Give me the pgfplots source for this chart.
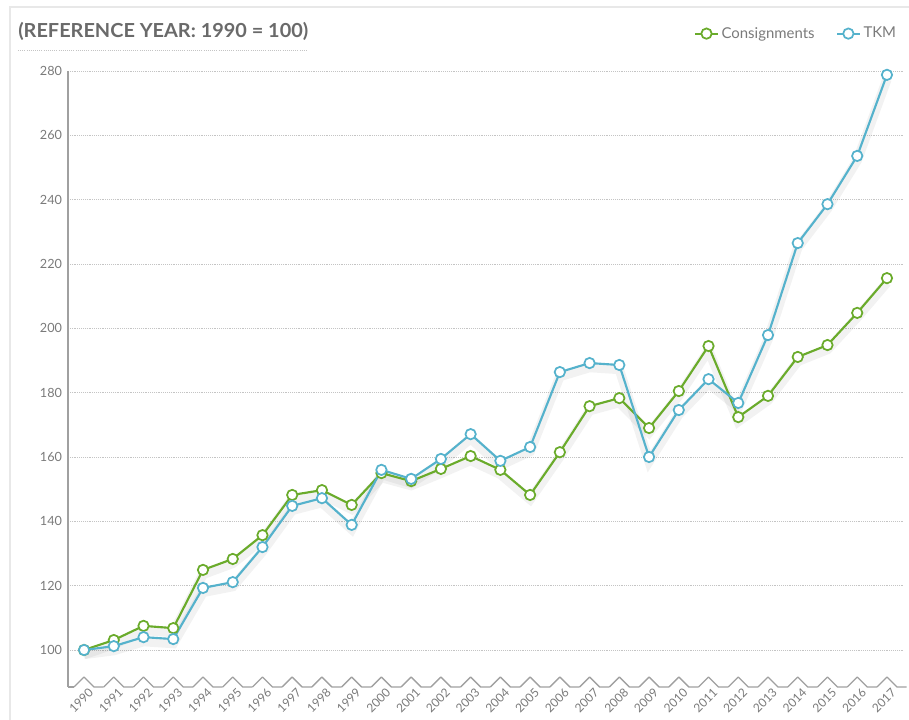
\documentclass[border=0pt]{standalone}
\usepackage{fontspec}
\setmainfont{Lato}
\usepackage{graphicx}
\usepackage{pgfplots}
\usepackage{pgfplotstable}
\pgfplotsset{compat=1.18}
\definecolor{cgreen}{HTML}{6AAB2B}
\definecolor{cblue}{HTML}{55B2CC}
\definecolor{txtgray}{HTML}{7A7A7A}
\definecolor{titlegray}{HTML}{6A6A6A}
\definecolor{axgray}{HTML}{A0A0A0}
\definecolor{gridgray}{HTML}{C4C4C4}
\definecolor{framegray}{HTML}{E8E8E8}

\pgfplotstableread{
year cons tkm
1990 100.0 100.0
1991 103.1 101.2
1992 107.5 104.0
1993 106.8 103.4
1994 124.9 119.3
1995 128.3 121.1
1996 135.7 132.0
1997 148.2 144.8
1998 149.7 147.2
1999 145.1 138.9
2000 155.0 156.0
2001 152.5 153.2
2002 156.3 159.4
2003 160.3 167.1
2004 156.0 158.8
2005 148.2 163.1
2006 161.5 186.4
2007 175.8 189.2
2008 178.3 188.6
2009 169.0 160.0
2010 180.5 174.6
2011 194.5 184.2
2012 172.4 176.8
2013 179.0 197.9
2014 191.1 226.5
2015 194.8 238.6
2016 204.8 253.6
2017 215.6 278.8
}\datatable

\begin{document}
\begin{tikzpicture}
\begin{scope}[x=0.75pt,y=0.75pt]
\path[use as bounding box] (0,0) rectangle (909,720);
\draw[framegray, line width=1.5pt] (10,0) -- (10,713) -- (909,713);
\node[anchor=west, text=titlegray, inner sep=0pt] at (18,689)
  {\resizebox{217.5pt}{\height}{\fontsize{14.5}{17}\selectfont\bfseries (REFERENCE YEAR: 1990 = 100)}};
\draw[gridgray, densely dotted, line width=0.6pt] (18,670) -- (308,670);
\end{scope}

\begin{axis}[
  at={(51pt,24.75pt)}, anchor=south west,
  scale only axis, width=626.25pt, height=462pt,
  xmin=1989.46, xmax=2017.54, ymin=88.5, ymax=280,
  clip=false,
  axis lines=left,
  axis line style={-},
  x axis line style={draw=none},
  y axis line style={axgray, line width=1pt},
  major tick length=0pt,
  xtick={1990,...,2017},
  ytick={100,120,...,280},
  ymajorgrids,
  grid style={gridgray, densely dotted, line width=0.6pt},
  /pgf/number format/assume math mode=true,
  /pgf/number format/1000 sep={},
  tick label style={text=txtgray, font=\fontsize{9.5}{11}\selectfont},
  yticklabel style={xshift=-1pt},
  xticklabel style={rotate=45, anchor=north east, xshift=3pt, yshift=-1pt, inner sep=1pt, font=\fontsize{9}{10}\selectfont},
  legend style={at={(1,1)}, anchor=south east, yshift=19pt, draw=none, fill=none,
     font=\fontsize{11.2}{13}\selectfont, text=txtgray,
     /tikz/every even column/.append style={column sep=14pt}},
  legend columns=2,
  legend cell align=left,
]
% soft shadows
\addplot[black, opacity=0.05, line width=7pt, no marks, forget plot] table[x=year, y expr=\thisrow{cons}-1.4] {\datatable};
\addplot[black, opacity=0.05, line width=7pt, no marks, forget plot] table[x=year, y expr=\thisrow{tkm}-1.4] {\datatable};

\addplot[cgreen, line width=1.6pt, mark=*, mark size=3.9pt,
  mark options={fill=white, draw=cgreen, line width=1.3pt}] table[x=year, y=cons] {\datatable};
\addlegendentry{Consignments}
\addplot[cblue, line width=1.6pt, mark=*, mark size=3.9pt,
  mark options={fill=white, draw=cblue, line width=1.3pt}] table[x=year, y=tkm] {\datatable};
\addlegendentry{TKM}
\end{axis}

% zigzag base line
\begin{scope}[x=0.75pt,y=0.75pt]
\draw[axgray, line width=1pt] (68,33) -- (74,33);
\foreach \i in {0,...,27}{
  \pgfmathsetmacro{\xc}{84+29.74*\i}
  \draw[axgray, line width=1pt, line join=round] (\xc-10,33) -- (\xc,43) -- (\xc+10,33) -- (\xc+19.74,33);
}
\end{scope}
\end{tikzpicture}
\end{document}
